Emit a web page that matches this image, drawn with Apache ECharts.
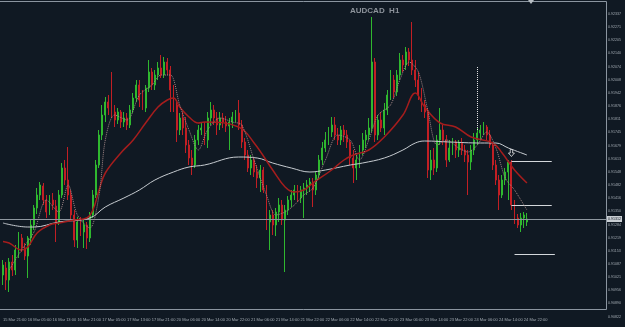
<!DOCTYPE html>
<html><head><meta charset="utf-8">
<script src="https://cdn.jsdelivr.net/npm/echarts@6/dist/echarts.min.js"></script>
<style>html,body{margin:0;padding:0;background:#101923;}#c{width:625px;height:327px;}</style>
</head><body><div id="c"></div>
<script>
const chartTitle = 'AUDCAD  H1';
const xTickLabels = ['15 Mar 21:00','16 Mar 05:00','16 Mar 13:00','16 Mar 21:00','17 Mar 05:00','17 Mar 13:00','17 Mar 21:00','20 Mar 06:00','20 Mar 14:00','20 Mar 22:00','21 Mar 06:00','21 Mar 14:00','21 Mar 22:00','22 Mar 06:00','22 Mar 14:00','22 Mar 22:00','23 Mar 06:00','23 Mar 14:00','23 Mar 22:00','24 Mar 06:00','24 Mar 14:00','24 Mar 22:00'];
const yTickLabels = [0.92337,0.92271,0.92205,0.92140,0.92074,0.92008,0.91942,0.91876,0.91811,0.91745,0.91679,0.91613,0.91548,0.91482,0.91416,0.91350,0.91284,0.91219,0.91153,0.91087,0.91021,0.90956,0.90890,0.90822];
const yMin = 0.90822, yMax = 0.92407;

const opens = [0.91032,0.91067,0.91007,0.91097,0.91057,0.91157,0.91217,0.91167,0.91127,0.91217,
0.91282,0.91367,0.91432,0.91477,0.91407,0.91347,0.91407,0.91377,0.91297,0.91432,
0.91567,0.91507,0.91432,0.91332,0.91207,0.91297,0.91247,0.91282,0.91217,0.91332,
0.91432,0.91582,0.91732,0.91832,0.91897,0.91867,0.91847,0.91807,0.91847,0.91797,
0.91817,0.91782,0.91857,0.91917,0.91982,0.91907,0.91867,0.91967,0.92047,0.91982,
0.92032,0.92067,0.92032,0.92097,0.92057,0.91957,0.91882,0.91757,0.91817,0.91767,
0.91682,0.91617,0.91582,0.91707,0.91757,0.91767,0.91707,0.91817,0.91857,0.91817,
0.91782,0.91817,0.91797,0.91777,0.91797,0.91822,0.91842,0.91782,0.91697,0.91632,
0.91567,0.91607,0.91547,0.91517,0.91557,0.91457,0.91297,0.91332,0.91282,0.91347,
0.91382,0.91307,0.91357,0.91407,0.91432,0.91457,0.91417,0.91457,0.91467,0.91482,
0.91497,0.91457,0.91532,0.91607,0.91667,0.91707,0.91747,0.91782,0.91732,0.91707,
0.91757,0.91732,0.91697,0.91617,0.91567,0.91607,0.91657,0.91707,0.91732,0.91767,
0.92097,0.91732,0.91807,0.91767,0.91857,0.91932,0.92007,0.91947,0.92032,0.92107,
0.92082,0.92147,0.92107,0.92057,0.92007,0.91932,0.91882,0.91847,0.91557,0.91607,
0.91567,0.91707,0.91757,0.91707,0.91607,0.91667,0.91697,0.91657,0.91692,0.91657,
0.91632,0.91597,0.91657,0.91707,0.91742,0.91757,0.91772,0.91732,0.91682,0.91582,
0.91507,0.91432,0.91507,0.91547,0.91597,0.91382,0.91317,0.91282,0.91317,0.91297];
const closes = [0.91082,0.91007,0.91097,0.91057,0.91157,0.91222,0.91167,0.91127,0.91217,0.91282,
0.91367,0.91432,0.91482,0.91407,0.91347,0.91407,0.91382,0.91297,0.91432,0.91567,
0.91507,0.91432,0.91332,0.91207,0.91297,0.91247,0.91282,0.91217,0.91332,0.91432,
0.91582,0.91732,0.91832,0.91897,0.91867,0.91847,0.91807,0.91847,0.91797,0.91817,
0.91782,0.91857,0.91917,0.91982,0.91907,0.91867,0.91967,0.92047,0.91982,0.92032,
0.92067,0.92032,0.92097,0.92057,0.91957,0.91882,0.91757,0.91817,0.91767,0.91682,
0.91617,0.91582,0.91707,0.91757,0.91767,0.91707,0.91817,0.91857,0.91817,0.91782,
0.91817,0.91797,0.91777,0.91797,0.91822,0.91842,0.91782,0.91697,0.91632,0.91567,
0.91607,0.91547,0.91517,0.91557,0.91457,0.91297,0.91332,0.91282,0.91347,0.91382,
0.91307,0.91357,0.91407,0.91432,0.91457,0.91417,0.91457,0.91467,0.91482,0.91497,
0.91457,0.91532,0.91607,0.91667,0.91707,0.91747,0.91782,0.91732,0.91707,0.91757,
0.91732,0.91697,0.91617,0.91567,0.91607,0.91657,0.91707,0.91732,0.91767,0.92097,
0.91732,0.91807,0.91767,0.91857,0.91932,0.92007,0.91947,0.92032,0.92107,0.92082,
0.92147,0.92107,0.92057,0.92007,0.91932,0.91882,0.91847,0.91557,0.91607,0.91567,
0.91707,0.91757,0.91707,0.91607,0.91667,0.91697,0.91657,0.91692,0.91657,0.91632,
0.91597,0.91657,0.91707,0.91742,0.91757,0.91772,0.91732,0.91682,0.91582,0.91507,
0.91432,0.91507,0.91547,0.91597,0.91382,0.91317,0.91282,0.91317,0.91332,0.91312];
const lows = [0.90982,0.90957,0.90947,0.91027,0.91032,0.91117,0.91147,0.91107,0.91017,0.91182,
0.91257,0.91337,0.91407,0.91382,0.91317,0.91332,0.91357,0.91197,0.91282,0.91417,
0.91482,0.91407,0.91307,0.91172,0.91167,0.91227,0.91167,0.91162,0.91197,0.91317,
0.91417,0.91567,0.91707,0.91797,0.91832,0.91817,0.91772,0.91787,0.91767,0.91772,
0.91757,0.91767,0.91842,0.91897,0.91872,0.91857,0.91847,0.91947,0.91957,0.91957,
0.92007,0.92017,0.92017,0.92032,0.91847,0.91847,0.91697,0.91732,0.91732,0.91642,
0.91582,0.91532,0.91567,0.91682,0.91732,0.91682,0.91667,0.91782,0.91782,0.91732,
0.91757,0.91767,0.91747,0.91657,0.91767,0.91797,0.91757,0.91667,0.91607,0.91547,
0.91532,0.91522,0.91467,0.91447,0.91442,0.91257,0.91157,0.91232,0.91227,0.91297,
0.91282,0.91047,0.91332,0.91372,0.91407,0.91397,0.91392,0.91317,0.91432,0.91447,
0.91372,0.91432,0.91507,0.91582,0.91647,0.91682,0.91722,0.91707,0.91682,0.91682,
0.91697,0.91667,0.91582,0.91492,0.91507,0.91567,0.91632,0.91667,0.91707,0.91747,
0.91697,0.91707,0.91747,0.91732,0.91832,0.91907,0.91917,0.91927,0.92007,0.92047,
0.92057,0.92077,0.92032,0.91972,0.91907,0.91847,0.91817,0.91517,0.91507,0.91532,
0.91547,0.91682,0.91682,0.91572,0.91597,0.91632,0.91617,0.91622,0.91632,0.91597,
0.91432,0.91557,0.91632,0.91682,0.91707,0.91732,0.91707,0.91667,0.91557,0.91482,
0.91357,0.91417,0.91482,0.91407,0.91357,0.91287,0.91267,0.91247,0.91267,0.91277];
const highs = [0.91107,0.91097,0.91117,0.91132,0.91182,0.91247,0.91237,0.91192,0.91227,0.91307,
0.91382,0.91467,0.91497,0.91492,0.91432,0.91432,0.91442,0.91407,0.91457,0.91592,
0.91607,0.91672,0.91457,0.91357,0.91322,0.91322,0.91307,0.91297,0.91347,0.91457,
0.91607,0.91757,0.91882,0.91922,0.91932,0.92047,0.91882,0.91867,0.91857,0.91847,
0.91842,0.91882,0.91942,0.92007,0.92007,0.91957,0.91982,0.92107,0.92067,0.92057,
0.92097,0.92132,0.92122,0.92117,0.92077,0.91982,0.91907,0.91842,0.91847,0.91822,
0.91707,0.91657,0.91732,0.91782,0.91797,0.91797,0.91847,0.91897,0.91882,0.91847,
0.91847,0.91842,0.91827,0.91817,0.91847,0.91857,0.91907,0.91807,0.91717,0.91657,
0.91632,0.91622,0.91582,0.91582,0.91572,0.91482,0.91357,0.91357,0.91367,0.91417,
0.91407,0.91382,0.91427,0.91457,0.91482,0.91482,0.91477,0.91492,0.91507,0.91517,
0.91517,0.91547,0.91632,0.91697,0.91747,0.91772,0.91822,0.91822,0.91767,0.91777,
0.91782,0.91757,0.91707,0.91657,0.91632,0.91682,0.91742,0.91757,0.91817,0.92322,
0.92117,0.91832,0.91847,0.91892,0.91957,0.92057,0.92032,0.92057,0.92142,0.92132,
0.92172,0.92167,0.92297,0.92107,0.92047,0.91967,0.91907,0.91867,0.91657,0.91667,
0.91732,0.91867,0.91782,0.91732,0.91707,0.91717,0.91707,0.91707,0.91717,0.91682,
0.91657,0.91682,0.91742,0.91767,0.91782,0.91797,0.91782,0.91757,0.91697,0.91607,
0.91532,0.91532,0.91567,0.91607,0.91607,0.91407,0.91337,0.91342,0.91347,0.91342];
const lastPrice = 0.91312;

const slowMA = [[0,0.91292],[8,0.91272],[10,0.91272],[18,0.91297],[28,0.91317],[33,0.91372],[39,0.91417],[44,0.91457],[49,0.91507],[55,0.91547],[60,0.91572],[65,0.91582],[76,0.91622],[82,0.91617],[87,0.91592],[93,0.91567],[99,0.91547],[104,0.91557],[112,0.91582],[116,0.91592],[123,0.91617],[129,0.91657],[133,0.91692],[136,0.91702],[144,0.91697],[154,0.91692],[159,0.91692],[163,0.91667],[169,0.91632]];
const midMA = [[0,0.91200],[2,0.91192],[6,0.91157],[8,0.91172],[11,0.91242],[15,0.91282],[18,0.91292],[23,0.91307],[27,0.91317],[29,0.91357],[31,0.91457],[33,0.91542],[38,0.91642],[42,0.91707],[46,0.91792],[50,0.91872],[53,0.91907],[55,0.91917],[57,0.91872],[60,0.91822],[63,0.91792],[65,0.91797],[76,0.91772],[81,0.91692],[87,0.91557],[91,0.91472],[94,0.91447],[97,0.91457],[100,0.91492],[106,0.91557],[110,0.91607],[113,0.91632],[118,0.91657],[123,0.91722],[129,0.91832],[133,0.91942],[136,0.91872],[141,0.91792],[146,0.91772],[151,0.91722],[158,0.91692],[161,0.91642],[165,0.91557],[169,0.91492]];
const fastMA = [[2,0.91057],[6,0.91157],[10,0.91247],[14,0.91407],[18,0.91347],[21,0.91482],[24,0.91332],[28,0.91267],[31,0.91432],[33,0.91707],[36,0.91832],[40,0.91807],[44,0.91932],[48,0.91982],[51,0.92032],[54,0.92032],[57,0.91882],[60,0.91757],[63,0.91657],[66,0.91757],[70,0.91817],[74,0.91797],[77,0.91782],[81,0.91607],[85,0.91432],[88,0.91332],[91,0.91347],[94,0.91382],[97,0.91432],[100,0.91467],[104,0.91607],[108,0.91732],[112,0.91707],[115,0.91607],[118,0.91707],[121,0.91832],[125,0.91882],[128,0.92007],[131,0.92097],[134,0.92047],[137,0.91857],[140,0.91682],[143,0.91707],[147,0.91667],[150,0.91647],[153,0.91682],[156,0.91747],[159,0.91667],[162,0.91517],[165,0.91457],[169,0.91357]];

const levelLines = [[164,177,0.91602],[164,177,0.91382],[165,178,0.91137]];
const dottedMarker = [153,0.92072,0.91757];
const arrowMarker = [164,0.91642];

const nSlots = 195;
const categories = [];
(function(){ let d = 15, h = 21;
  for (let i = 0; i < nSlots; i++) {
    categories.push(d + ' Mar ' + String(h).padStart(2,'0') + ':00');
    h++;
    if (d === 17 && h === 23) { d = 20; h = 0; }
    if (h === 24) { h = 0; d++; }
  }
})();

const candleData = opens.map((o, i) => [o, closes[i], lows[i], highs[i]]);
const toPairs = arr => arr.map(p => [categories[p[0]], p[1]]);

const FONT = 'Liberation Sans';
const chart = echarts.init(document.getElementById('c'), null, {renderer: 'canvas'});
chart.setOption({
  animation: false,
  backgroundColor: '#101923',
  title: {text: chartTitle, left: 345, top: 2, textStyle: {fontSize: 8, fontWeight: 'bold', color: '#8d939b', fontFamily: FONT}},
  grid: {left: -6.57, right: 19, top: 0, bottom: 10, containLabel: false},
  xAxis: {
    type: 'category', data: categories, boundaryGap: true,
    axisLine: {show: false}, axisTick: {show: false}, splitLine: {show: false},
    axisLabel: {interval: 7, align: 'left', margin: 1, fontSize: 4, color: '#a3abb3', fontFamily: FONT,
      formatter: (v, idx) => (idx % 8 === 0 && idx / 8 < xTickLabels.length) ? xTickLabels[idx / 8] : ''}
  },
  yAxis: {
    type: 'value', position: 'right', min: yMin, max: yMax, scale: true,
    axisLine: {show: false}, axisTick: {show: false}, splitLine: {show: false},
    axisLabel: {customValues: yTickLabels, margin: 2, fontSize: 3.6, color: '#a3abb3', fontFamily: FONT,
      formatter: v => Number(v).toFixed(5)}
  },
  graphic: [
    {type: 'polyline', silent: true, z: 100, shape: {points: [[0,1.5],[606.5,1.5],[606.5,309.5],[0,309.5]]}, style: {stroke: '#8b95a0', lineWidth: 1, fill: null}},
    {type: 'polygon', silent: true, z: 100, shape: {points: [[528,0],[534,0],[531,4]]}, style: {fill: '#b8bec4'}}
  ],
  series: [
    {
      type: 'candlestick', data: candleData, barWidth: 1.4, z: 2,
      itemStyle: {color: '#2fb82f', color0: '#c21f24', borderColor: '#2fb82f', borderColor0: '#c21f24', borderWidth: 1},
      markLine: {
        silent: true, symbol: 'none', animation: false,
        data: [
          [{yAxis: lastPrice, x: 0, lineStyle: {color: '#8e979f', width: 1, type: 'solid'},
            label: {show: true, position: 'end', distance: 1, formatter: () => lastPrice.toFixed(5), fontSize: 3.6, fontFamily: FONT, color: '#101923', backgroundColor: '#c9ced3', padding: [1,1]}},
           {yAxis: lastPrice, x: 606}],
          ...levelLines.map(l => [
            {coord: [categories[l[0]], l[2]], lineStyle: {color: '#d3d7db', width: 1, type: 'solid'}, label: {show: false}},
            {coord: [categories[l[1]], l[2]]}]),
          [{coord: [categories[dottedMarker[0]], dottedMarker[1]], lineStyle: {color: '#e0e0e0', width: 1, type: 'dotted'}, label: {show: false}},
           {coord: [categories[dottedMarker[0]], dottedMarker[2]]}]
        ]
      },
      markPoint: {
        silent: true, animation: false,
        data: [{coord: [categories[arrowMarker[0]], arrowMarker[1]], symbol: 'path://M3,0 L7,0 L7,5 L10,5 L5,10 L0,5 L3,5 Z', symbolSize: [6,7],
          itemStyle: {color: 'rgba(0,0,0,0)', borderColor: '#e6e6e6', borderWidth: 0.8}, label: {show: false}}]
      }
    },
    {type: 'line', data: toPairs(slowMA), smooth: 0.4, symbol: 'none', z: 5, lineStyle: {color: '#c6cbd0', width: 1}},
    {type: 'line', data: toPairs(midMA), smooth: 0.4, symbol: 'none', z: 5, lineStyle: {color: '#a51d1d', width: 1.5}},
    {type: 'line', data: toPairs(fastMA), smooth: 0.3, symbol: 'none', z: 5, lineStyle: {color: '#a08585', width: 1, type: 'dotted'}}
  ]
});
</script></body></html>
